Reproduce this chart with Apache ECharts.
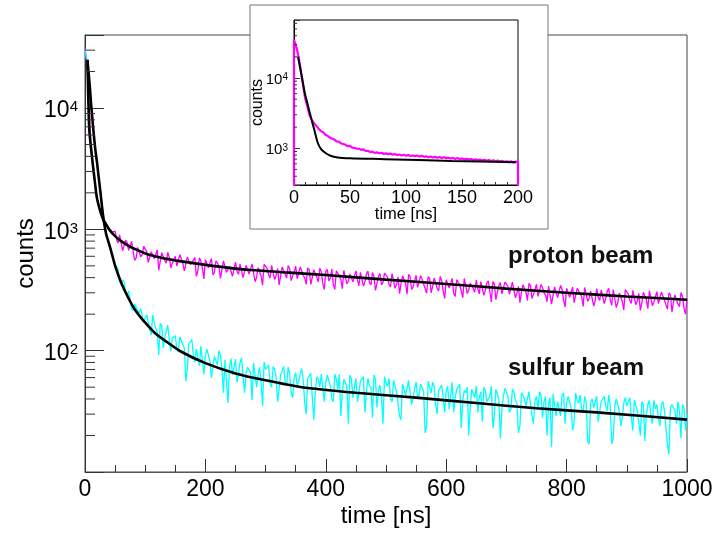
<!DOCTYPE html>
<html><head><meta charset="utf-8">
<script src="https://cdn.jsdelivr.net/npm/echarts@6/dist/echarts.min.js"></script>
<style>html,body{margin:0;padding:0;background:#fff}#chart{width:722px;height:534px}</style>
</head><body><div id="chart"></div>
<script>
const FONT = '"Liberation Sans", Arial, Helvetica, sans-serif';

// ---------- main plot data: 5 ns bins at t = 0,5,...,1000 ----------
const binWidth = 5;
const protonCounts = [
  32000,17500,4600,2800,1800,1450,1220,1130,1010,950,
  968,773,896,678,777,670,791,582,724,618,
  706,533,655,573,678,470,638,526,588,493,
  599,495,616,454,591,512,557,410,582,480,
  563,483,575,441,527,394,549,442,496,411,
  537,426,504,389,518,442,528,401,477,347,
  500,421,505,386,475,352,502,398,475,412,
  498,383,455,397,482,351,465,404,478,359,
  449,376,471,320,455,387,460,356,428,369,
  454,343,437,371,453,348,409,313,432,364,
  424,352,432,327,406,358,421,292,407,334,
  418,328,389,343,408,300,397,327,408,310,
  383,328,394,280,384,312,394,296,360,324,
  381,294,367,315,377,252,354,303,364,287,
  358,292,367,273,339,302,355,259,342,291,
  353,274,332,287,341,242,336,274,345,260,
  327,275,334,249,326,280,332,255,310,233,
  325,260,311,270,326,237,312,249,297,217,
  308,259,314,239,296,248,314,223,304,251,
  307,236,297,253,300,208,288,242,302,224,
  268
];
// intermediate bins at t = 52.5, 57.5, ..., 997.5
const midStart = 52.5;
const protonCountsMid = [
  817,902,667,815,672,795,554,711,594,723,
  656,542,680,557,461,642,553,648,483,568,
  497,618,527,442,578,499,585,454,549,391,
  571,481,422,549,495,388,551,445,514,424,
  450,519,400,505,429,520,370,483,412,515,
  477,398,504,417,349,490,425,503,378,446,
  392,490,419,353,463,402,473,369,447,320,
  469,396,349,455,413,325,463,375,435,360,
  384,442,340,430,364,441,314,410,349,436,
  403,336,427,352,295,414,360,425,320,377,
  332,415,355,298,392,339,400,311,378,270,
  396,334,295,384,348,273,390,316,366,303,
  322,371,286,361,306,371,264,344,294,367,
  340,284,360,298,249,349,303,359,269,318,
  280,350,300,253,330,287,337,264,320,229,
  335,283,249,326,295,232,331,269,311,258,
  275,317,244,309,262,318,227,297,254,318,
  293,245,311,258,215,303,264,312,235,277,
  244,305,261,220,288,251,295,231,280,200
];
const sulfurCounts = [
  30500,21500,11000,5800,3500,2200,1350,950,740,610,
  525,470,354,368,285,301,214,237,205,218,
  187,200,135,170,142,168,105,145,123,127,
  133,97,127,105,70,116,92,103,75,107,
  91,104,60,90,76,92,45,85,74,63,
  85,64,87,45,73,66,79,50,73,35,
  70,76,50,70,38,63,74,52,64,41,
  66,56,71,37,59,65,27,61,50,65,
  55,62,40,64,48,29,58,51,63,41,
  59,45,56,31,59,50,63,34,52,25,
  54,59,38,55,46,27,55,49,58,35,
  55,43,52,21,56,45,51,30,48,54,
  47,33,55,42,49,23,47,50,35,48,
  51,41,26,47,38,51,29,44,19,42,
  46,31,48,39,21,45,40,35,47,25,
  42,46,28,42,36,16,43,38,29,45,
  37,41,22,45,37,33,42,18,38,34,
  42,27,40,35,43,17,35,39,24,37,
  35,41,22,38,31,38,18,36,29,39,
  36,24,38,32,14,36,32,38,19,34,
  30
];
const sulfurCountsMid = [
  491,371,383,302,311,223,243,213,222,171,
  198,147,197,152,92,161,127,162,99,127,
  104,130,112,56,115,123,80,101,109,64,
  103,82,62,91,100,70,84,37,86,73,
  55,79,86,65,71,39,80,64,55,81,
  68,53,74,60,37,68,55,73,45,60,
  51,65,57,30,62,67,45,58,64,38,
  63,51,38,58,64,46,56,25,59,50,
  38,56,61,46,52,28,58,47,41,61,
  51,40,57,46,29,53,43,57,36,48,
  41,53,46,24,50,55,36,47,52,31,
  51,42,31,48,53,38,45,20,48,41,
  31,46,50,38,42,23,48,39,33,49,
  42,33,46,37,24,43,35,46,29,39,
  33,43,38,20,41,44,29,38,43,25,
  42,34,26,39,43,31,38,17,40,34,
  26,38,42,32,35,19,40,32,28,41,
  35,28,39,32,20,36,30,39,25,33,
  28,36,32,17,34,37,25,32,36,22
];
const protonFitTimes = [4,5,6,7,9,12,15.6,19.4,23,27,31,35,40,50,60,77,90,105,130,160,200,271,340,400,500,600,700,800,900,1000];
const protonFit      = [25000,15000,9500,6800,5200,3800,2650,1860,1550,1330,1180,1100,1000,880,800,710,665,620,578,545,510,464,440,420,385,355,325,300,280,263];
const sulfurFitTimes = [4,6,8,10,12,14,17,20,23,26,30,35,40,45,50,60,70,80,90,100,116,130,160,200,250,300,360,450,550,650,750,850,1000];
const sulfurFit      = [25000,19500,15000,11000,8400,6500,4600,3550,2620,1950,1300,920,760,620,500,365,285,230,195,170,140,124,98,79,65,57,50,45,41,37,33.5,31,27];

// ---------- inset data (2 ns bins, t = 0 ... 200 ns) ----------
const insetBinWidth = 2;
const insetCounts = [
  35000,28000,20500,13000,8100,5100,3900,2900,2520,2260,
  2080,1900,1760,1690,1560,1500,1420,1370,1330,1250,
  1240,1170,1150,1120,1070,1080,1020,1010,990,985,
  950,965,915,920,880,895,860,875,850,865,
  830,845,825,840,810,830,800,815,790,810,
  785,800,775,790,770,790,760,780,755,770,
  745,765,740,755,735,750,725,745,720,735,
  715,730,705,725,700,715,695,710,690,705,
  680,700,675,690,670,685,665,680,660,675,
  655,670,650,660,640,655,635,650,630,645,
  630
];
const insetEdgeCounts = 1;  // histogram drawn down to zero at both edges
const insetFitTimes = [3.6,6,8,9.6,12,14,15.6,18,21.2,24,27.5,32,39,50,81,141,198];
const insetFit      = [20200,12600,8500,6150,4340,3240,2570,1860,1200,980,870,790,740,720,700,660,630];

// ---------- axis tick values / labels ----------
const mainYMinorTicks = [20,30,40,50,60,70,80,90,200,300,400,500,600,700,800,900,2000,3000,4000,5000,6000,7000,8000,9000,20000,30000];
const mainYLabelled = [100,1000,10000];
const insetYMinorTicks = [400,500,600,700,800,900,2000,3000,4000,5000,6000,7000,8000,9000,20000,30000,40000,50000,60000];
const insetYLabelled = [1000,10000];
const beamLabels = ['proton beam','sulfur beam'];

// ---------- helpers ----------
const toBins = (arr, w, start) => arr.map((v, i) => [(start || 0) + i * w, v]);
const merged = (a, b) => a.concat(b).sort((p, q) => p[0] - q[0]);
const pairs = (ts, vs) => ts.map((t, i) => [t, vs[i]]);
function powLabel(list) {
  return v => {
    if (!list.some(p => Math.abs(p - v) / p < 1e-6)) return '';
    return '{b|10}{s|' + Math.round(Math.log10(v)) + '}';
  };
}
function minorTicks(xi, yi, values, xAt, len, z) {
  return {
    type: 'custom', xAxisIndex: xi, yAxisIndex: yi, z: z, silent: true, clip: false,
    data: values.map(v => [xAt, v]),
    renderItem: (params, api) => {
      const p = api.coord([api.value(0), api.value(1)]);
      return { type: 'line', shape: { x1: p[0], y1: p[1], x2: p[0] + len, y2: p[1] },
               style: { stroke: '#333', lineWidth: 1 } };
    }
  };
}

const protonData = merged(toBins(protonCounts, binWidth), toBins(protonCountsMid, binWidth, midStart));
const sulfurData = merged(toBins(sulfurCounts, binWidth), toBins(sulfurCountsMid, binWidth, midStart));
const insetData = [[0, insetEdgeCounts]].concat(toBins(insetCounts, insetBinWidth), [[200, insetEdgeCounts]]);

const chart = echarts.init(document.getElementById('chart'), null, { renderer: 'canvas' });
chart.setOption({
  animation: false,
  backgroundColor: '#fff',
  textStyle: { fontFamily: FONT },
  grid: [
    { left: 85, right: 35, top: 35, bottom: 62, show: true, borderColor: '#444', borderWidth: 1, backgroundColor: 'transparent' },
    { left: 294, top: 20, width: 224, height: 165, show: true, borderColor: '#000', borderWidth: 1, backgroundColor: 'transparent', z: 10 }
  ],
  xAxis: [
    { type: 'value', gridIndex: 0, min: 0, max: 1000, interval: 200,
      axisLine: { lineStyle: { color: '#555', width: 1 } },
      axisTick: { inside: true, length: 13, lineStyle: { color: '#333' } },
      minorTick: { show: true, splitNumber: 4, length: 7, lineStyle: { color: '#333' } },
      splitLine: { show: false },
      axisLabel: { color: '#000', fontSize: 23, margin: 6, fontFamily: FONT, formatter: v => String(v) },
      name: 'time [ns]', nameLocation: 'middle', nameGap: 32, nameMoveOverlap: false,
      nameTextStyle: { color: '#000', fontSize: 24, fontFamily: FONT } },
    { type: 'value', gridIndex: 1, min: 0, max: 200, interval: 50, z: 10,
      axisLine: { lineStyle: { color: '#000', width: 1 } },
      axisTick: { inside: true, length: 6, lineStyle: { color: '#333' } },
      minorTick: { show: true, splitNumber: 5, length: 3, lineStyle: { color: '#333' } },
      splitLine: { show: false },
      axisLabel: { color: '#000', fontSize: 18, margin: 4, fontFamily: FONT, formatter: v => String(v) },
      name: 'time [ns]', nameLocation: 'middle', nameGap: 21, nameMoveOverlap: false,
      nameTextStyle: { color: '#000', fontSize: 16.5, fontFamily: FONT } }
  ],
  yAxis: [
    { type: 'log', logBase: 10, gridIndex: 0, min: 10, max: 40000,
      axisLine: { lineStyle: { color: '#333', width: 1 } },
      axisTick: { inside: true, length: 19, lineStyle: { color: '#333' } },
      splitLine: { show: false },
      axisLabel: { formatter: powLabel(mainYLabelled), margin: 7, padding: [6, 0, 0, 0],
        rich: { b: { fontSize: 23, lineHeight: 23, verticalAlign: 'bottom', color: '#000', fontFamily: FONT },
                s: { fontSize: 15, lineHeight: 15, verticalAlign: 'top', color: '#000', fontFamily: FONT } } },
      name: 'counts', nameLocation: 'middle', nameGap: 47, nameMoveOverlap: false,
      nameTextStyle: { color: '#000', fontSize: 24, fontFamily: FONT } },
    { type: 'log', logBase: 10, gridIndex: 1, min: 300, max: 67000, z: 10,
      axisLine: { lineStyle: { color: '#000', width: 1 } },
      axisTick: { inside: true, length: 6, lineStyle: { color: '#333' } },
      splitLine: { show: false },
      axisLabel: { formatter: powLabel(insetYLabelled), margin: 6, padding: [4, 0, 0, 0],
        rich: { b: { fontSize: 15, lineHeight: 15, verticalAlign: 'bottom', color: '#000', fontFamily: FONT },
                s: { fontSize: 10, lineHeight: 10, verticalAlign: 'top', color: '#000', fontFamily: FONT } } },
      name: 'counts', nameLocation: 'middle', nameGap: 28, nameMoveOverlap: false,
      nameTextStyle: { color: '#000', fontSize: 16, fontFamily: FONT } }
  ],
  graphic: [
    { type: 'rect', z: 5, shape: { x: 250, y: 5, width: 298, height: 224 },
      style: { fill: '#fff', stroke: '#777', lineWidth: 1 } },
    { type: 'text', z: 5, left: 508, top: 244, style: { text: beamLabels[0], font: 'bold 24px ' + FONT, fill: '#111' } },
    { type: 'text', z: 5, left: 508, top: 356, style: { text: beamLabels[1], font: 'bold 24px ' + FONT, fill: '#111' } }
  ],
  series: [
    { type: 'line', xAxisIndex: 0, yAxisIndex: 0, data: protonData, showSymbol: false, sampling: 'none',
      lineStyle: { color: '#ff00ff', width: 1.3 }, itemStyle: { color: '#ff00ff' }, z: 2 },
    { type: 'line', xAxisIndex: 0, yAxisIndex: 0, data: sulfurData, showSymbol: false, sampling: 'none',
      lineStyle: { color: '#00ffff', width: 1.3 }, itemStyle: { color: '#00ffff' }, z: 2 },
    { type: 'line', xAxisIndex: 0, yAxisIndex: 0, data: pairs(protonFitTimes, protonFit), showSymbol: false, smooth: 0.2,
      lineStyle: { color: '#000', width: 2.6 }, z: 3 },
    { type: 'line', xAxisIndex: 0, yAxisIndex: 0, data: pairs(sulfurFitTimes, sulfurFit), showSymbol: false, smooth: 0.2,
      lineStyle: { color: '#000', width: 2.6 }, z: 3 },
    minorTicks(0, 0, mainYMinorTicks, 0, 10, 4),
    { type: 'line', xAxisIndex: 1, yAxisIndex: 1, data: insetData, showSymbol: false,
      lineStyle: { color: '#ff00ff', width: 2.2 }, z: 11 },
    { type: 'line', xAxisIndex: 1, yAxisIndex: 1, data: pairs(insetFitTimes, insetFit), showSymbol: false, smooth: 0.3,
      lineStyle: { color: '#000', width: 2 }, z: 12 },
    minorTicks(1, 1, insetYMinorTicks, 0, 3, 12)
  ]
});
</script></body></html>
